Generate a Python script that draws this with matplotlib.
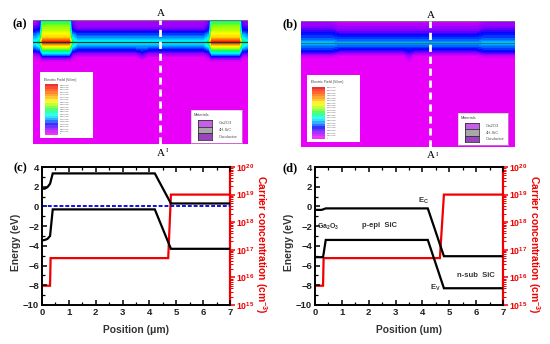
import numpy as np
import matplotlib
matplotlib.use('Agg')
import matplotlib.pyplot as plt
from matplotlib.colors import LinearSegmentedColormap
from matplotlib.patches import Rectangle
from matplotlib.ticker import MultipleLocator, FixedLocator, NullFormatter

plt.rcParams['font.family'] = ['Liberation Sans', 'DejaVu Sans']
plt.rcParams['mathtext.fontset'] = 'custom'
plt.rcParams['mathtext.bf'] = 'Liberation Sans:bold'
plt.rcParams['mathtext.rm'] = 'Liberation Sans:bold'

W, H = 550, 344

# --- field maps (normalised field) ---
depth_a = [0, 5, 10, 14, 18, 22, 26, 30, 33, 36, 40, 44, 124]
bg_a    = [.07, .08, .13, .23, .30, .38, .30, .20, .10, .03, 0, 0, 0]
near_a  = [.12, .14, .20, .30, .38, .48, .40, .25, .15, .08, .02, 0, 0]
block_a = [.46, .54, .61, .67, .74, .95, .68, .50, .36, .20, .05, 0, 0]
edge_a  = [.03, .10, .18, .26, .32, .40, .32, .22, .12, .05, 0, 0, 0]
bump_a  = [.07, .08, .13, .23, .30, .38, .30, .23, .16, .10, .01, 0, 0]
pos_a   = [0, 3, 7, 10, 23, 36, 39, 44, 103, 109, 115, 171, 176, 179, 192, 206, 209, 215]
cols_a  = [edge_a, edge_a, near_a, block_a, block_a, block_a, near_a, bg_a, bg_a, bump_a,
           bg_a, bg_a, near_a, block_a, block_a, block_a, near_a, edge_a]

depth_b = [0, 5, 10, 14, 18, 20, 22, 24, 26, 30, 34, 38, 42, 126]
bg_b    = [.03, .07, .11, .19, .24, .27, .31, .27, .24, .15, .03, 0, 0, 0]
side_b  = [.06, .10, .16, .22, .26, .29, .33, .29, .26, .20, .06, .01, 0, 0]
bump_b  = [.03, .07, .11, .19, .24, .27, .31, .27, .24, .18, .10, .05, .01, 0]
pos_b   = [0, 30, 38, 103, 108, 113, 176, 184, 214]
cols_b  = [side_b, side_b, bg_b, bg_b, bump_b, bg_b, bg_b, side_b, side_b]

field_levels_a = ['5.96e+06', '5.66e+06', '5.37e+06', '5.07e+06', '4.77e+06', '4.47e+06', '4.17e+06',
                  '3.88e+06', '3.58e+06', '3.28e+06', '2.98e+06', '2.68e+06', '2.38e+06', '2.09e+06',
                  '1.79e+06', '1.49e+06', '1.19e+06', '8.94e+05', '5.96e+05', '2.98e+05', '0']
field_levels_b = ['8.55e+06', '8.12e+06', '7.69e+06', '7.26e+06', '6.84e+06', '6.41e+06', '5.98e+06',
                  '5.56e+06', '5.13e+06', '4.70e+06', '4.27e+06', '3.85e+06', '3.42e+06', '2.99e+06',
                  '2.56e+06', '2.14e+06', '1.71e+06', '1.28e+06', '8.55e+05', '4.27e+05', '0']
materials = ['Ga2O3', '4H-SiC', 'Conductor']
material_colors = ['#c85fe8', '#a8a8a8', '#9a45bd']

# --- band diagrams ---
x_c = [0, .1, .2, .3, .4, 4.2, 4.8, 7]
ec_c = [1.8, 1.8, 1.95, 2.3, 3.35, 3.35, .3, .3]
ev_c = [-3.45, -3.4, -3.3, -3.0, -.3, -.3, -4.3, -4.3]
x_d = [0, .25, .3, .4, 4.2, 4.8, 7]
ec_d = [-.35, -.35, -.3, -.2, -.2, -5.05, -5.05]
ev_d = [-5.15, -5.15, -5.15, -3.4, -3.4, -8.3, -8.3]
x_n_c = [0, .3, .32, 4.7, 4.8, 7]
n_c = [5e15, 5e15, 5e16, 5e16, 1e19, 1e19]
x_n_d = [0, .3, .32, 4.65, 4.8, 7]
n_d = [5e15, 5e15, 5e16, 5e16, 1e19, 1e19]
energy_ticks = [4, 2, 0, -2, -4, -6, -8, -10]
conc_exponents = [15, 16, 17, 18, 19, 20]

cmap = LinearSegmentedColormap.from_list('field', [
    (0, '#f400f8'), (.1, '#9000ff'), (.2, '#0000ff'), (.3, '#00a0ff'), (.38, '#00ffff'),
    (.48, '#00ff70'), (.58, '#a0ff00'), (.68, '#ffff00'), (.8, '#ff9000'), (.95, '#ff2000'), (1, '#e00000')])

fig = plt.figure(figsize=(W / 100, H / 100), dpi=100, facecolor='white')


def box(x0, y0, x1, y1, **kw):
    return fig.add_axes([x0 / W, 1 - y1 / H, (x1 - x0) / W, (y1 - y0) / H], **kw)


def ftext(x, y, s, **kw):
    fig.text(x / W, 1 - y / H, s, ha=kw.pop('ha', 'center'), va=kw.pop('va', 'center'), **kw)


def field_panel(rect, pos, depth, cols, line_col, depth_line, dash_x, label, label_xy, levels, lb, mb):
    ax = box(*rect)
    Z = np.array(cols).T
    ax.contourf(pos, depth, Z, levels=np.linspace(0, 1, 41), cmap=cmap, vmin=0, vmax=1)
    ax.set_ylim(depth[-1], 0)
    ax.set_xlim(pos[0], pos[-1])
    ax.axis('off')
    ax.axhline(depth_line, color=line_col, lw=.9)
    ax.add_patch(Rectangle((0, 0), pos[-1], 1.2, color='#806a80', lw=0))
    ax.axvline(dash_x - rect[0], color='white', lw=2.0, dashes=(2.6, 1.7))
    ftext(dash_x + 1, rect[1] - 6, 'A', family='Liberation Serif', fontsize=8)
    ftext(dash_x + 1, rect[3] + 9, 'A', family='Liberation Serif', fontsize=8)
    ftext(dash_x + 7, rect[3] + 7, 'I', family='Liberation Serif', fontsize=5)
    ftext(*label_xy, label, family='Liberation Serif', fontsize=9, fontweight='bold')
    # colour legend
    lax = box(*lb)
    lax.set_xticks([]); lax.set_yticks([])
    lax.set_facecolor('white')
    for s in lax.spines.values():
        s.set_visible(False)
    ftext(lb[0] + 20, lb[1] + 7.5, 'Electric Field (V/cm)', fontsize=2.6, color='#444444')
    cax = box(lb[0] + 5, lb[1] + 12, lb[0] + 18, lb[3] - 3)
    vals = np.linspace(1, 0, len(levels)).reshape(-1, 1)
    cax.imshow(vals, aspect='auto', cmap=cmap, vmin=0, vmax=1, interpolation='nearest', alpha=.8)
    cax.axis('off')
    top, bot = lb[1] + 13, lb[3] - 4
    for i, t in enumerate(levels):
        ftext(lb[0] + 20, top + (bot - top) * i / (len(levels) - 1), t, fontsize=1.6,
              color='#555555', ha='left')
    # materials legend
    mx = box(*mb)
    mx.set_xticks([]); mx.set_yticks([])
    mx.set_facecolor('white')
    for s in mx.spines.values():
        s.set_color('#bbbbbb'); s.set_linewidth(.4)
    ftext(mb[0] + 3, mb[1] + 5, 'Materials', fontsize=2.8, color='#444444', ha='left')
    hh = (mb[3] - mb[1] - 13) / 3
    for i, (m, c) in enumerate(zip(materials, material_colors)):
        y0 = mb[1] + 10 + i * hh
        sw = box(mb[0] + 7, y0, mb[0] + 21, y0 + hh)
        sw.set_facecolor(c); sw.set_xticks([]); sw.set_yticks([])
        for s in sw.spines.values():
            s.set_linewidth(.6); s.set_color('#333333')
        ftext(mb[0] + 28, y0 + hh / 2, m, fontsize=3, color='#555555', ha='left')


field_panel((33, 20, 248, 144), pos_a, depth_a, cols_a, '#0b3a3a', 22, 160, '(a)', (20, 24),
            field_levels_a, (40, 72, 93, 138), (191, 110, 242, 143))
field_panel((301, 21, 515, 147), pos_b, depth_b, cols_b, '#0a8090', 22, 430, '(b)', (290, 24),
            field_levels_b, (307, 75, 360, 142), (458, 113, 508, 145))


def band_panel(rect, x_b, ec, ev, x_n, n, xlabel, label, label_xy, fermi):
    ax = box(*rect)
    ax.set_zorder(2)
    ax.patch.set_alpha(0)
    ax.set_xlim(0, 7)
    ax.set_ylim(-10, 4)
    ax.plot(x_b, ec, color='black', lw=1.6, solid_joinstyle='miter')
    ax.plot(x_b, ev, color='black', lw=1.6, solid_joinstyle='miter')
    if fermi:
        ax.axhline(0, color='#1010e0', lw=1.4, dashes=(2, 1))
    ax.set_yticks(energy_ticks)
    ax.xaxis.set_major_locator(MultipleLocator(1))
    ax.xaxis.set_minor_locator(MultipleLocator(.5))
    ax.yaxis.set_minor_locator(MultipleLocator(1))
    ax.tick_params(which='major', direction='in', length=3.5, width=1.1, top=True, right=False, pad=2,
                   labelsize=6.8)
    ax.tick_params(which='minor', direction='in', length=2, width=.9, top=True, right=False)
    for lab in ax.get_xticklabels() + ax.get_yticklabels():
        lab.set_fontweight('bold')
        lab.set_color('#222222')
    for s in ['left', 'top', 'bottom']:
        ax.spines[s].set_linewidth(1.4)
    ax.spines['right'].set_visible(False)
    ax.set_xlabel(xlabel, fontsize=7.4, fontweight='bold', color='#333333')
    ax.xaxis.set_label_coords(.5, -(330 - rect[3]) / (rect[3] - rect[1]))
    ax.xaxis.label.set_va('center')
    ax.set_ylabel('Energy (eV)', fontsize=7.4, fontweight='bold', color='#333333')
    ax.yaxis.set_label_coords(-26 / (rect[2] - rect[0]), .457)
    ax.yaxis.label.set_va('center')

    ax2 = ax.twinx()
    ax2.set_zorder(1)
    ax2.set_xlim(0, 7)
    ax2.set_yscale('log')
    ax2.set_ylim(1e15, 1e20)
    ax2.plot(x_n, n, color='#f00000', lw=1.6, solid_joinstyle='miter')
    ax2.yaxis.set_major_locator(FixedLocator([10.0 ** e for e in conc_exponents]))
    ax2.set_yticklabels(['$\\mathbf{10^{%d}}$' % e for e in conc_exponents])
    ax2.yaxis.set_minor_locator(FixedLocator([m * 10.0 ** e for e in conc_exponents[:-1] for m in range(2, 10)]))
    ax2.yaxis.set_minor_formatter(NullFormatter())
    ax2.tick_params(which='major', direction='out', length=3.5, width=1.1, colors='#f00000', pad=1, labelsize=6.3)
    ax2.tick_params(which='minor', direction='out', length=2, width=.7, colors='#f00000')
    for s in ['left', 'top', 'bottom']:
        ax2.spines[s].set_visible(False)
    ax2.spines['right'].set_color('#f00000')
    ax2.spines['right'].set_linewidth(1.6)
    ax2.set_ylabel('Carrier concentration (cm$^{\\mathbf{-3}}$)', fontsize=7.4, fontweight='bold',
                   color='#f00000', rotation=270)
    ax2.yaxis.set_label_coords(1 + 31 / (rect[2] - rect[0]), .44)
    ax2.yaxis.label.set_va('center')
    ftext(*label_xy, label, family='Liberation Serif', fontsize=9, fontweight='bold')
    return ax


band_panel((42, 167, 230, 305), x_c, ec_c, ev_c, x_n_c, n_c, 'Position (\u03bcm)', '(c)', (20, 168), True)
axd = band_panel((315, 167, 503, 305), x_d, ec_d, ev_d, x_n_d, n_d, 'Position (um)', '(d)', (290, 168), False)
for x, y, s, fs in [(4.05, .6, 'E$_{\\mathrm{C}}$', 5.5), (.48, -2.05, 'Ga$_2$O$_3$', 5), (2.4, -1.9, 'p-epi  SiC', 5.5),
                    (6.0, -7.0, 'n-sub  SiC', 5.5), (4.5, -8.3, 'E$_{\\mathrm{V}}$', 5.5)]:
    axd.text(x, y, s, fontsize=fs, fontweight='bold', color='#333333', ha='center', va='center')

fig.savefig('out.png', dpi=100)
